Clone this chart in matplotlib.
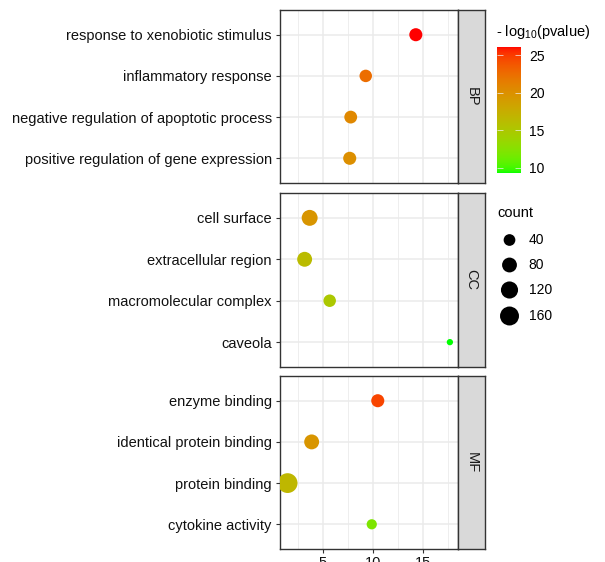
import numpy as np
import matplotlib
matplotlib.use("Agg")
import matplotlib.pyplot as plt
from matplotlib.colors import ListedColormap, Normalize
from matplotlib.cm import ScalarMappable

plt.rcParams['font.family'] = ['Liberation Sans', 'DejaVu Sans']
plt.rcParams['mathtext.fontset'] = 'custom'
plt.rcParams['mathtext.rm'] = 'Liberation Sans'
plt.rcParams['mathtext.default'] = 'regular'

# --- GO enrichment results, listed top to bottom in each panel ---
bp_terms = ["response to xenobiotic stimulus", "inflammatory response",
            "negative regulation of apoptotic process", "positive regulation of gene expression"]
bp_x = [14.3, 9.3, 7.8, 7.7]
bp_logp = [26.1, 22.5, 20.6, 20.1]
bp_count = [55, 48, 52, 55]

cc_terms = ["cell surface", "extracellular region", "macromolecular complex", "caveola"]
cc_x = [3.7, 3.2, 5.7, 17.7]
cc_logp = [19.6, 16.2, 15.0, 9.3]
cc_count = [98, 81, 48, 13]

mf_terms = ["enzyme binding", "identical protein binding", "protein binding", "cytokine activity"]
mf_x = [10.5, 3.9, 1.5, 9.9]
mf_logp = [24.6, 19.6, 16.6, 12.0]
mf_count = [55, 81, 180, 27]

panels = [("BP", bp_terms, bp_x, bp_logp, bp_count),
          ("CC", cc_terms, cc_x, cc_logp, cc_count),
          ("MF", mf_terms, mf_x, mf_logp, mf_count)]

x_ticks = [5, 10, 15]
size_breaks = [40, 80, 120, 160]
color_breaks = [10, 15, 20, 25]

FS = 10.5


# --- green -> red gradient interpolated in Lab space ---
def srgb_to_lab(rgb):
    rgb = np.asarray(rgb, float)
    lin = np.where(rgb > 0.04045, ((rgb + 0.055) / 1.055) ** 2.4, rgb / 12.92)
    m = np.array([[0.4124, 0.3576, 0.1805],
                  [0.2126, 0.7152, 0.0722],
                  [0.0193, 0.1192, 0.9505]])
    xyz = m @ lin / np.array([0.95047, 1.0, 1.08883])
    f = np.where(xyz > 0.008856, np.cbrt(xyz), 7.787 * xyz + 16 / 116)
    return np.array([116 * f[1] - 16, 500 * (f[0] - f[1]), 200 * (f[1] - f[2])])


def lab_to_srgb(lab):
    L, a, b = lab
    fy = (L + 16) / 116
    fx = fy + a / 500
    fz = fy - b / 200
    f = np.array([fx, fy, fz])
    xyz = np.where(f ** 3 > 0.008856, f ** 3, (f - 16 / 116) / 7.787)
    xyz = xyz * np.array([0.95047, 1.0, 1.08883])
    m = np.array([[3.2406, -1.5372, -0.4986],
                  [-0.9689, 1.8758, 0.0415],
                  [0.0557, -0.2040, 1.0570]])
    lin = m @ xyz
    rgb = np.where(lin > 0.0031308, 1.055 * np.clip(lin, 0, None) ** (1 / 2.4) - 0.055, 12.92 * lin)
    return np.clip(rgb, 0, 1)


lab_lo = srgb_to_lab([0, 1, 0])
lab_hi = srgb_to_lab([1, 0, 0])
cmap = ListedColormap([lab_to_srgb(lab_lo + t * (lab_hi - lab_lo)) for t in np.linspace(0, 1, 256)])

all_logp = bp_logp + cc_logp + mf_logp
all_count = bp_count + cc_count + mf_count
norm = Normalize(vmin=min(all_logp), vmax=max(all_logp))
cmin, cmax = min(all_count), max(all_count)


def dot_size(c):
    # diameter in pixels grows with sqrt of count, returned as points^2
    d = 6.3 + 13.5 * np.sqrt((np.asarray(c, float) - cmin) / (cmax - cmin))
    return (d * 0.72) ** 2


W, H = 605, 562
fig = plt.figure(figsize=(W / 100, H / 100), dpi=100)


def px_rect(x0, y0, x1, y1):
    return [x0 / W, 1 - y1 / H, (x1 - x0) / W, (y1 - y0) / H]


panel_y = [(10, 183), (193, 367), (376, 549)]
xl, xr, sr = 279.5, 458, 485
xmin = min(bp_x + cc_x + mf_x)
xmax = max(bp_x + cc_x + mf_x)
pad = 0.05 * (xmax - xmin)

for i, (name, terms, xs, logp, counts) in enumerate(panels):
    y0, y1 = panel_y[i]
    ax = fig.add_axes(px_rect(xl, y0, xr, y1))
    ypos = np.arange(len(terms))[::-1] + 1
    ax.scatter(xs, ypos, s=dot_size(counts), c=logp, cmap=cmap, norm=norm,
               linewidths=0, zorder=3)
    ax.set_xlim(xmin - pad, xmax + pad)
    ax.set_ylim(0.4, len(terms) + 0.6)
    ax.set_yticks(ypos)
    ax.set_yticklabels(terms, fontsize=FS, color='#111111')
    ax.set_xticks(x_ticks)
    ax.set_xticks([2.5, 7.5, 12.5, 17.5], minor=True)
    ax.grid(True, which='major', color='#EBEBEB', linewidth=1.1, zorder=0)
    ax.grid(True, which='minor', axis='x', color='#EBEBEB', linewidth=0.6, zorder=0)
    ax.set_axisbelow(True)
    for sp in ax.spines.values():
        sp.set_color('#333333')
        sp.set_linewidth(1.0)
    ax.tick_params(axis='both', which='major', length=3, width=0.8, color='#333333', pad=2.5)
    ax.tick_params(axis='x', which='minor', length=0)
    if i < 2:
        ax.tick_params(axis='x', labelbottom=False, length=0)
    else:
        ax.tick_params(axis='x', labelsize=FS, labelcolor='#111111', pad=2.2)

    # facet strip on the right
    sax = fig.add_axes(px_rect(xr, y0, sr, y1))
    sax.set_facecolor('#D9D9D9')
    sax.set_xticks([])
    sax.set_yticks([])
    for sp in sax.spines.values():
        sp.set_color('#333333')
        sp.set_linewidth(1.0)
    sax.text(0.5, 0.5, name, rotation=-90, ha='center', va='center',
             fontsize=FS, color='#1A1A1A', transform=sax.transAxes)

# --- colour legend ---
fig.text(496 / W, 1 - 36 / H, "- log$_{10}$(pvalue)", fontsize=FS, va='baseline', ha='left')
cax = fig.add_axes(px_rect(497, 47, 521, 173))
cb = fig.colorbar(ScalarMappable(norm=norm, cmap=cmap), cax=cax, ticks=color_breaks)
cb.outline.set_visible(False)
cax.tick_params(axis='y', direction='in', length=4.5, width=0.5, color='#F2F2F2',
                left=True, right=True, labelsize=FS - 0.5, pad=6)

# --- size legend ---
fig.text(497 / W, 1 - 213 / H, "count", fontsize=FS, va='center', ha='left')
lax = fig.add_axes(px_rect(490, 228, 600, 328))
lax.set_xlim(490, 600)
lax.set_ylim(328, 228)
lax.axis('off')
leg_y = np.array([240, 265, 290, 316])
lax.scatter(np.full(len(size_breaks), 509.5), leg_y, s=dot_size(size_breaks),
            color='black', linewidths=0, clip_on=False)
for yy, lab in zip(leg_y, size_breaks):
    lax.text(528.5, yy, str(lab), fontsize=FS - 0.5, va='center', ha='left')

fig.savefig("out.png", dpi=100)
